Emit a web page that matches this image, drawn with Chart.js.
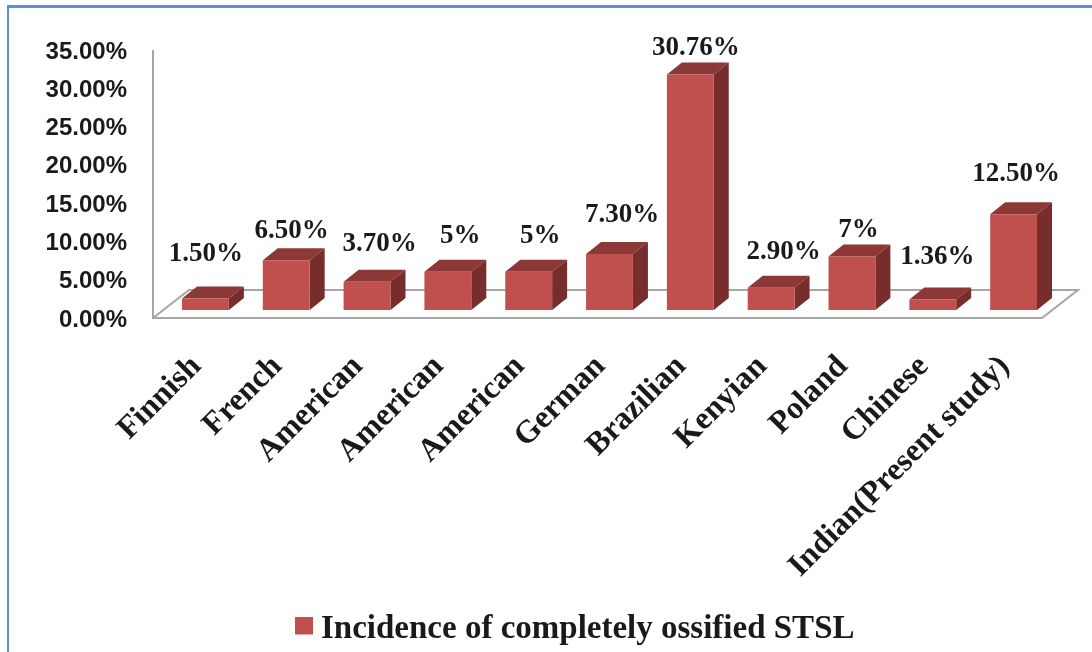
<!DOCTYPE html>
<html><head><meta charset="utf-8">
<style>
html,body{margin:0;padding:0;background:#fff;width:1092px;height:652px;overflow:hidden}
#frame{position:absolute;left:7px;top:5px;width:1200px;height:800px;border:solid #5b8fd6;border-width:3px 0 0 2px;box-sizing:border-box}
#wrap{position:absolute;left:0;top:0;width:1092px;height:652px;filter:blur(0.7px)}
</style>
<script src="https://cdn.jsdelivr.net/npm/chart.js@4"></script>
</head><body>
<div id="frame"></div>
<div id="wrap"><canvas id="c" width="1092" height="652"></canvas></div>
<script>
const categories = ["Finnish","French","American","American","American","German","Brazilian","Kenyian","Poland","Chinese","Indian(Present study)"];
const values = [1.5,6.5,3.7,5,5,7.3,30.76,2.9,7,1.36,12.5];
const valueLabels = ["1.50%","6.50%","3.70%","5%","5%","7.30%","30.76%","2.90%","7%","1.36%","12.50%"];
const seriesName = "Incidence of completely ossified STSL";
const yTicks = [0,5,10,15,20,25,30,35];

// layout of the pseudo-3D drawing (separate from the data)
const front = {dx:12, dy:-8};
const depth = {dx:15, dy:-12};
const floor = {dx:36, dy:-28};
const labelRaise = [32,17,26,24,24,27,14,24,14,31,28];
const labelShift = [-7,-2,5,5,4,5,-2,5,-1,-3,-5];
const legendShift = 58;

const colors = {front:"#C0504D", top:"#8C3836", side:"#772D2B", axis:"#a6a6a6", text:"#1a1a1a"};

const swatch = document.createElement("canvas");
swatch.width = 18; swatch.height = 26;
const sctx = swatch.getContext("2d");
sctx.fillStyle = colors.front; sctx.fillRect(0,0,18,18);

const threeD = {
  id:"threeD",
  afterLayout(chart){
    chart.legend.left += legendShift;
    chart.legend.right += legendShift;
  },
  beforeDatasetsDraw(chart){
    const {ctx,chartArea:a} = chart;
    ctx.save();
    ctx.strokeStyle = colors.axis; ctx.lineWidth = 2;
    ctx.beginPath();
    ctx.moveTo(a.left,a.top); ctx.lineTo(a.left,a.bottom);
    ctx.lineTo(a.right,a.bottom);
    ctx.lineTo(a.right+floor.dx,a.bottom+floor.dy);
    ctx.lineTo(a.left+floor.dx,a.bottom+floor.dy);
    ctx.lineTo(a.left,a.bottom);
    ctx.stroke();
    ctx.restore();
    ctx.save();
    ctx.translate(front.dx,front.dy);
    chart.getDatasetMeta(0).data.forEach(b=>{
      const p = b.getProps(["x","y","base","width"],true);
      const l=p.x-p.width/2, r=p.x+p.width/2, t=p.y, bt=p.base;
      ctx.fillStyle=colors.top;
      ctx.beginPath();ctx.moveTo(l,t);ctx.lineTo(l+depth.dx,t+depth.dy);ctx.lineTo(r+depth.dx,t+depth.dy);ctx.lineTo(r,t);ctx.closePath();ctx.fill();
      ctx.fillStyle=colors.side;
      ctx.beginPath();ctx.moveTo(r,t);ctx.lineTo(r+depth.dx,t+depth.dy);ctx.lineTo(r+depth.dx,bt+depth.dy);ctx.lineTo(r,bt);ctx.closePath();ctx.fill();
    });
    ctx.restore();
    ctx.save();
    ctx.translate(front.dx,front.dy);
  },
  afterDatasetsDraw(chart){
    const {ctx} = chart;
    ctx.restore();
    ctx.save();
    ctx.font = "bold 27px 'Liberation Serif'";
    ctx.fillStyle = colors.text;
    ctx.textAlign = "center"; ctx.textBaseline = "middle";
    chart.getDatasetMeta(0).data.forEach((b,i)=>{
      const p = b.getProps(["x","y"],true);
      ctx.fillText(valueLabels[i], p.x+front.dx+depth.dx/2+labelShift[i], p.y+front.dy+depth.dy-labelRaise[i]);
    });
    ctx.restore();
  }
};

new Chart(document.getElementById("c"),{
  type:"bar",
  data:{labels:categories,datasets:[{label:seriesName,data:values,backgroundColor:colors.front,barPercentage:0.58,categoryPercentage:1,clip:false}]},
  plugins:[threeD],
  options:{
    responsive:false,animation:false,devicePixelRatio:1,
    layout:{padding:{top:50,right:50,bottom:-4,left:0}},
    plugins:{
      tooltip:{enabled:false},
      legend:{position:"bottom",labels:{color:colors.text,font:{family:"'Liberation Serif'",size:33,weight:"bold"},usePointStyle:true,pointStyle:swatch,boxWidth:1,boxHeight:18,padding:4}}
    },
    scales:{
      y:{min:0,max:35,
        afterBuildTicks(s){s.ticks=yTicks.map(v=>({value:v}));},
        afterFit(s){s.width=153;},
        grid:{display:false,drawTicks:false},border:{display:false},
        ticks:{padding:26,labelOffset:2,color:colors.text,font:{family:"'Liberation Sans'",size:24,weight:"bold"},callback:v=>v.toFixed(2)+"%"}},
      x:{
        afterFit(s){s.height=291;},
        grid:{display:false,drawTicks:false},border:{display:false},
        ticks:{autoSkip:false,minRotation:45,maxRotation:45,padding:30,labelOffset:3,color:colors.text,font:{family:"'Liberation Serif'",size:32,weight:"bold"}}}
    }
  }
});
</script>
</body></html>
